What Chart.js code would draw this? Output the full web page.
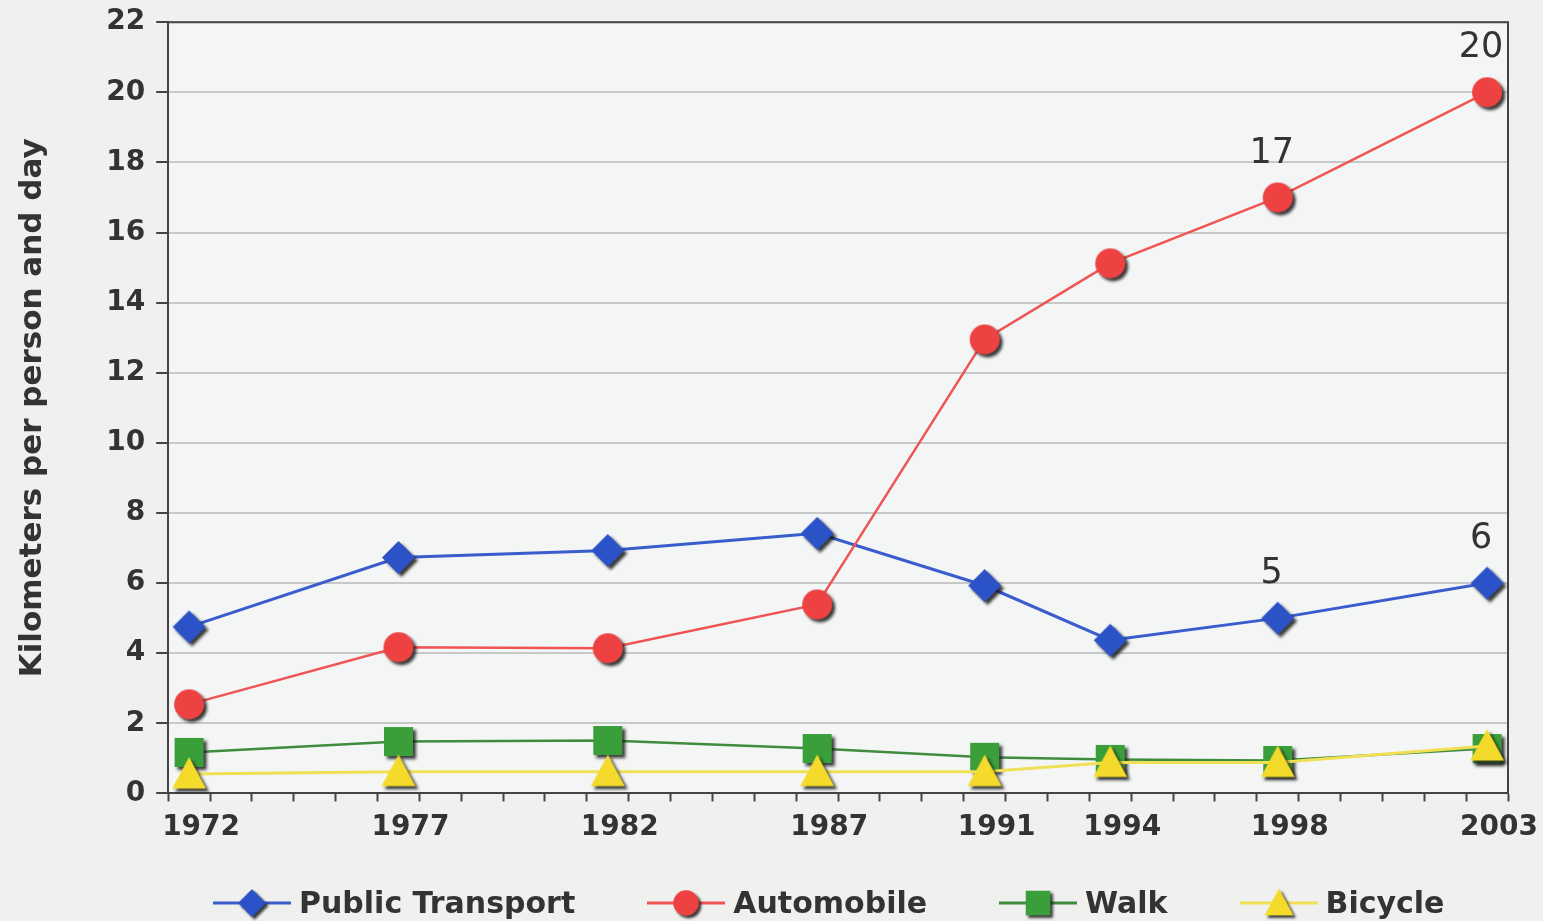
<!DOCTYPE html>
<html>
<head>
<meta charset="utf-8">
<title>Kilometers per person and day</title>
<script src="https://cdn.jsdelivr.net/npm/chart.js@4/dist/chart.umd.min.js"></script>
<style>
  html, body { margin: 0; padding: 0; background: #f0f0ee; overflow: hidden; }
  #wrap { position: relative; width: 1543px; height: 921px; }
  #legend {
    position: absolute; left: 213px; top: 883px; height: 40px;
    display: flex; align-items: center; gap: 72px;
    font: bold 30px "DejaVu Sans", sans-serif; color: #333;
  }
  .item { display: flex; align-items: center; }
  .item span { margin-left: 8px; line-height: 40px; white-space: nowrap; }
</style>
</head>
<body>
<div id="wrap">
  <canvas id="chart" width="1543" height="921"></canvas>
  <div id="legend"></div>
</div>
<script>
// survey years and km per person and day by mode
const years = [1972, 1977, 1982, 1987, 1991, 1994, 1998, 2003];
const publicTransport = [4.75, 6.73, 6.93, 7.42, 5.93, 4.37, 5, 6];
const automobile = [2.54, 4.17, 4.14, 5.39, 12.95, 15.12, 17, 20];
const walk = [1.17, 1.48, 1.51, 1.28, 1.03, 0.97, 0.94, 1.28];
const bicycle = [0.55, 0.62, 0.62, 0.62, 0.62, 0.88, 0.88, 1.35];

// values written above the last two surveys
const labelYears = [1998, 2003];
const labelledSeries = ['Public Transport', 'Automobile'];

const FONT = '"DejaVu Sans", sans-serif';
const X_MIN = 1971.5, X_MAX = 2003.5;

// tick marks sit on the year boundaries, labels on the survey years
const xTicks = years.slice();
for (let v = X_MIN; v <= X_MAX; v++) xTicks.push(v);
xTicks.sort((a, b) => a - b);

function toPoints(values) {
  return values.map((v, i) => ({ x: years[i], y: v }));
}

// marker bitmap with a dark drop shadow
function marker(shape, fill, size) {
  const pad = 8;
  const c = document.createElement('canvas');
  c.width = c.height = size + pad * 2;
  const g = c.getContext('2d');
  const m = c.width / 2, h = size / 2;
  g.shadowColor = 'rgba(25,25,25,0.85)';
  g.shadowOffsetX = 3;
  g.shadowOffsetY = 3;
  g.shadowBlur = 3;
  g.fillStyle = fill;
  g.beginPath();
  if (shape === 'diamond') {
    g.moveTo(m, m - h); g.lineTo(m + h, m); g.lineTo(m, m + h); g.lineTo(m - h, m);
  } else if (shape === 'circle') {
    g.arc(m, m, h, 0, Math.PI * 2);
  } else if (shape === 'square') {
    g.rect(m - h, m - h, size, size);
  } else {
    g.moveTo(m, m - h); g.lineTo(m + h, m + h * 0.85); g.lineTo(m - h, m + h * 0.85);
  }
  g.closePath();
  g.fill();
  return c;
}

const plotFrame = {
  id: 'plotFrame',
  beforeDraw(chart) {
    const { ctx, chartArea: a } = chart;
    ctx.save();
    ctx.fillStyle = '#f4f6f6';
    ctx.fillRect(a.left, a.top, a.width, a.height);
    ctx.restore();
  },
  beforeDatasetsDraw(chart) {
    const { ctx, chartArea: a } = chart;
    ctx.save();
    ctx.strokeStyle = '#444';
    ctx.lineWidth = 2;
    ctx.beginPath();
    ctx.moveTo(a.left, a.top);
    ctx.lineTo(a.right, a.top);
    ctx.lineTo(a.right, a.bottom);
    ctx.stroke();
    ctx.restore();
  }
};

const valueLabels = {
  id: 'valueLabels',
  afterDatasetsDraw(chart) {
    const { ctx } = chart;
    ctx.save();
    ctx.font = '35px ' + FONT;
    ctx.fillStyle = '#333';
    ctx.textAlign = 'center';
    ctx.textBaseline = 'middle';
    chart.data.datasets.forEach((ds, i) => {
      if (!labelledSeries.includes(ds.label)) return;
      chart.getDatasetMeta(i).data.forEach((pt, j) => {
        if (!labelYears.includes(years[j])) return;
        ctx.fillText(String(ds.data[j].y), pt.x - 6, pt.y - 44);
      });
    });
    ctx.restore();
  }
};

const datasets = [
  { label: 'Public Transport', data: toPoints(publicTransport), borderColor: '#3a5ccc', borderWidth: 3,
    pointStyle: marker('diamond', '#2b52c6', 33), order: 3 },
  { label: 'Automobile', data: toPoints(automobile), borderColor: '#f05454', borderWidth: 2.5,
    pointStyle: marker('circle', '#ee4242', 30), order: 2 },
  { label: 'Walk', data: toPoints(walk), borderColor: '#3f8c3f', borderWidth: 2.5,
    pointStyle: marker('square', '#3a9e3a', 29), order: 1 },
  { label: 'Bicycle', data: toPoints(bicycle), borderColor: '#efe055', borderWidth: 3,
    pointStyle: marker('triangle', '#f4da2a', 34), order: 0 },
];
datasets.forEach(d => { d.pointRadius = 16; d.tension = 0; d.clip = false; });

const tickFont = { family: FONT, size: 28, weight: 'bold', lineHeight: 0.8 };

const chart = new Chart(document.getElementById('chart'), {
  type: 'line',
  data: { datasets },
  options: {
    responsive: false,
    animation: false,
    events: [],
    layout: { padding: { top: 0, right: 35, bottom: 66, left: 0 } },
    plugins: { legend: { display: false }, tooltip: { enabled: false } },
    scales: {
      x: {
        type: 'linear',
        min: X_MIN,
        max: X_MAX,
        afterBuildTicks: axis => { axis.ticks = xTicks.map(v => ({ value: v })); },
        ticks: {
          autoSkip: false,
          maxRotation: 0,
          padding: 10,
          labelOffset: 12,
          color: '#333',
          font: { family: FONT, size: 28, weight: 'bold' },
          callback: v => years.includes(v) ? String(v) : '',
        },
        grid: {
          drawOnChartArea: false,
          tickLength: 8,
          tickWidth: 2,
          tickColor: c => Number.isInteger(c.tick.value) ? 'rgba(0,0,0,0)' : '#444',
        },
        border: { color: '#444', width: 2 },
      },
      y: {
        min: 0,
        max: 22,
        ticks: { stepSize: 2, padding: 11, color: '#333', font: tickFont },
        grid: { color: '#c8c8c8', lineWidth: 2, tickLength: 12, tickColor: '#444', tickWidth: 2 },
        border: { color: '#444', width: 2 },
        title: {
          display: true,
          text: 'Kilometers per person and day',
          color: '#333',
          font: { family: FONT, size: 31, weight: 'bold' },
          padding: { top: 14, bottom: 44 },
        },
      },
    },
  },
  plugins: [plotFrame, valueLabels],
});

// legend row: line segment with marker, then the series name
const legendEl = document.getElementById('legend');
datasets.forEach(ds => {
  const item = document.createElement('div');
  item.className = 'item';
  const sw = document.createElement('canvas');
  sw.width = 78; sw.height = 40;
  const g = sw.getContext('2d');
  g.strokeStyle = ds.borderColor;
  g.lineWidth = 3;
  g.beginPath(); g.moveTo(0, 20); g.lineTo(78, 20); g.stroke();
  const img = ds.pointStyle, s = img.width * 0.85;
  g.drawImage(img, 39 - s / 2, 20 - s / 2, s, s);
  const txt = document.createElement('span');
  txt.textContent = ds.label;
  item.appendChild(sw);
  item.appendChild(txt);
  legendEl.appendChild(item);
});
</script>
</body>
</html>
